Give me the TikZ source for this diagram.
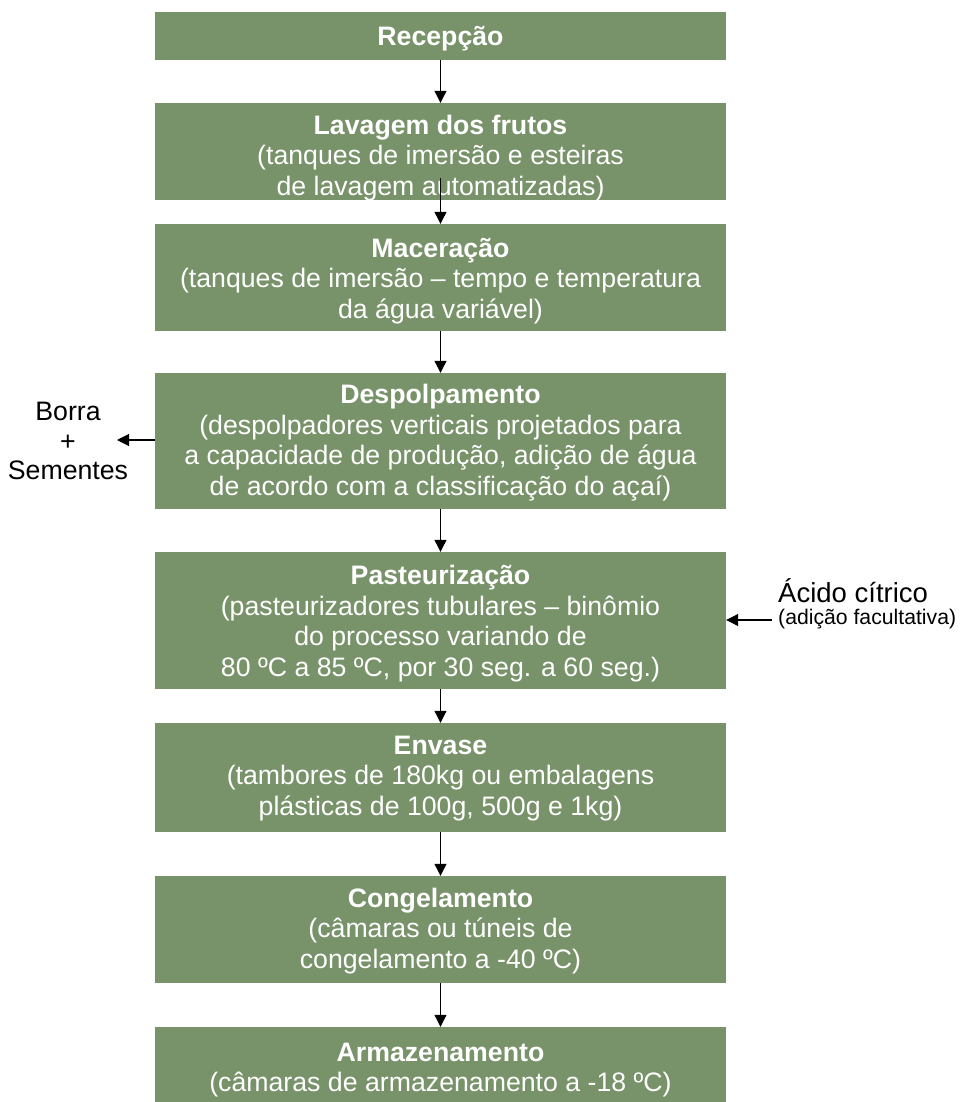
\documentclass[tikz,border=0pt]{standalone}
\usepackage{fontspec}
\setmainfont{Liberation Sans}
\usetikzlibrary{arrows.meta}
\definecolor{boxgreen}{RGB}{120,146,105}
\begin{document}
\begin{tikzpicture}[x=1pt,y=-1pt,
  stepbox/.style={fill=boxgreen, draw=none, minimum width=571pt, inner sep=0pt},
  steptext/.style={align=center, text=white, inner sep=0pt, font=\fontsize{26.7}{30.5}\selectfont},
  arr/.style={-{Triangle[length=12pt,width=12pt]}, line width=1.1pt, black},
  side/.style={align=center, font=\fontsize{26.7}{29.5}\selectfont, inner sep=0pt}]
\useasboundingbox (0,0) rectangle (961,1102);
\begin{scope}
\clip (0,0) rectangle (961,1102);
\node[stepbox, minimum height=48pt] (rec) at (440.5,36) {};
\node[stepbox, minimum height=97pt] (lav) at (440.5,151.5) {};
\node[stepbox, minimum height=107pt] (mac) at (440.5,277.5) {};
\node[stepbox, minimum height=136pt] (des) at (440.5,441) {};
\node[stepbox, minimum height=137pt] (pas) at (440.5,620.5) {};
\node[stepbox, minimum height=109pt] (env) at (440.5,777.5) {};
\node[stepbox, minimum height=107pt] (con) at (440.5,929.5) {};
\node[stepbox, minimum height=86pt] (arm) at (440.5,1070) {};
\end{scope}
\node[steptext] (rect) at ([yshift=-2.5pt]rec.center) {\textbf{Recepção}};
\node[steptext] (lavt) at ([yshift=-6.5pt]lav.center) {\textbf{Lavagem dos frutos}\\(tanques de imersão e esteiras\\de lavagem automatizadas)};
\node[steptext] (mact) at ([yshift=-3.5pt]mac.center) {\textbf{Maceração}\\(tanques de imersão -- tempo e temperatura\\da água variável)};
\node[steptext] (dest) at ([yshift=-1.5pt]des.center) {\textbf{Despolpamento}\\(despolpadores verticais projetados para\\a capacidade de produção, adição de água\\de acordo com a classificação do açaí)};
\node[steptext] (past) at ([yshift=-3pt]pas.center) {\textbf{Pasteurização}\\(pasteurizadores tubulares -- binômio\\do processo variando de\\80 ºC a 85 ºC, por 30 seg. a 60 seg.)};
\node[steptext] (envt) at ([yshift=-1pt]env.center) {\textbf{Envase}\\(tambores de 180kg ou embalagens\\plásticas de 100g, 500g e 1kg)};
\node[steptext] (cont) at ([yshift=-1.5pt]con.center) {\textbf{Congelamento}\\(câmaras ou túneis de\\congelamento a -40 ºC)};
\node[steptext] (armt) at ([yshift=0pt]arm.center) {\textbf{Armazenamento}\\(câmaras de armazenamento a -18 ºC)};
\coordinate (lavin) at (440.5,178);
\draw[arr] (rec) -- (lav);
\draw[arr] (lavin) -- (mac.north);
\draw[arr] (mac) -- (des);
\draw[arr] (des) -- (pas);
\draw[arr] (pas) -- (env);
\draw[arr] (env) -- (con);
\draw[arr] (con) -- (arm);
\node[side] (borra) at (68,441) {Borra\\+\\Sementes};
\coordinate (borratip) at (117,440);
\draw[arr] (des.west |- borratip) -- (borratip);
\node[anchor=west, inner sep=0pt, font=\fontsize{27.5}{30}\selectfont] (acido) at (778,591) {Ácido cítrico};
\node[anchor=west, inner sep=0pt, font=\fontsize{21.2}{24}\selectfont] (facult) at (778,619) {(adição facultativa)};
\coordinate (acidotail) at (772,620);
\draw[arr] (acidotail) -- (pas.east |- acidotail);
\end{tikzpicture}
\end{document}
